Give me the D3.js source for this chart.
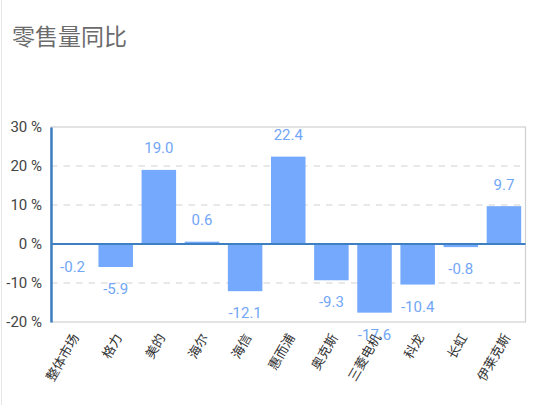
<!DOCTYPE html>
<html><head><meta charset="utf-8">
<script src="https://cdn.jsdelivr.net/npm/d3@7"></script>
<style>
html,body{margin:0;padding:0;background:#fff;}
svg{display:block;}
text{font-family:Roboto,"Noto Sans CJK SC",sans-serif;}
</style></head>
<body>
<svg id="c" width="550" height="405"></svg>
<script>
const title = "零售量同比";
const categories = ["整体市场","格力","美的","海尔","海信","惠而浦","奥克斯","三菱电机","科龙","长虹","伊莱克斯"];
const values = [-0.2,-5.9,19.0,0.6,-12.1,22.4,-9.3,-17.6,-10.4,-0.8,9.7];
const yTicks = [-20,-10,0,10,20,30];

const svg = d3.select("#c");
const L = 51, R = 525.5, T = 127, B = 322;

// faint page edge
svg.append("line").attr("x1",1.5).attr("x2",1.5).attr("y1",0).attr("y2",405)
  .attr("stroke","#e6e6e6").attr("stroke-width",1);

svg.append("text").attr("x",12).attr("y",37).attr("dominant-baseline","central")
  .attr("font-family","'Noto Sans CJK SC',sans-serif")
  .attr("font-size",23).attr("fill","#6b6b6b").text(title);

const x = d3.scaleBand().domain(categories).range([L,R]).paddingInner(0.2).paddingOuter(0.1);
const y = d3.scaleLinear().domain([-20,30]).range([B,T]);

// grid
svg.append("g").selectAll("line").data(yTicks.filter(t=>t!==0 && t!==30 && t!==-20)).join("line")
  .attr("x1",L).attr("x2",R).attr("y1",d=>y(d)).attr("y2",d=>y(d))
  .attr("stroke","#d2d2d2").attr("stroke-width",1.2).attr("stroke-dasharray","6.5,6");

// frame
svg.append("rect").attr("x",L).attr("y",T).attr("width",R-L).attr("height",B-T)
  .attr("fill","none").attr("stroke","#d0d0d0").attr("stroke-width",1.2);

// bars
svg.append("g").selectAll("rect").data(values).join("rect")
  .attr("x",(d,i)=>x(categories[i]))
  .attr("width",x.bandwidth())
  .attr("y",d=>Math.min(y(d),y(0)))
  .attr("height",d=>Math.abs(y(d)-y(0)))
  .attr("fill","#74a9fe");

// value labels
svg.append("g").selectAll("text").data(values).join("text")
  .attr("x",(d,i)=>x(categories[i])+x.bandwidth()/2)
  .attr("y",d=> d>=0 ? y(d)-21.5 : y(d)+22)
  .attr("text-anchor","middle").attr("dominant-baseline","central")
  .attr("font-size",15).attr("fill","#72a6f6")
  .text(d=>d.toFixed(1));

// zero line
svg.append("line").attr("x1",L).attr("x2",R).attr("y1",y(0)).attr("y2",y(0))
  .attr("stroke","#3d7fc0").attr("stroke-width",2);

// y axis
const yAxis = d3.axisLeft(y).tickValues(yTicks).tickSize(0).tickPadding(9).tickFormat(d=>d+" %");
const gy = svg.append("g").attr("transform",`translate(${L},0)`).call(yAxis);
gy.select(".domain").attr("stroke","#3d7fc0").attr("stroke-width",2.5);
gy.selectAll("text").attr("font-size",15).attr("fill","#444").attr("font-family","Roboto,sans-serif");

// x labels
const xAxis = d3.axisBottom(x).tickSize(0).tickPadding(0);
const gx = svg.append("g").attr("transform",`translate(0,${B})`).call(xAxis);
gx.select(".domain").remove();
gx.selectAll("text")
  .attr("font-family","'Noto Sans CJK SC',sans-serif")
  .attr("font-size",13).attr("fill","#333")
  .attr("text-anchor","end").attr("dy",null).attr("y",null)
  .attr("dominant-baseline","central")
  .attr("transform","translate(3,13) rotate(-60)");
</script>
</body></html>
